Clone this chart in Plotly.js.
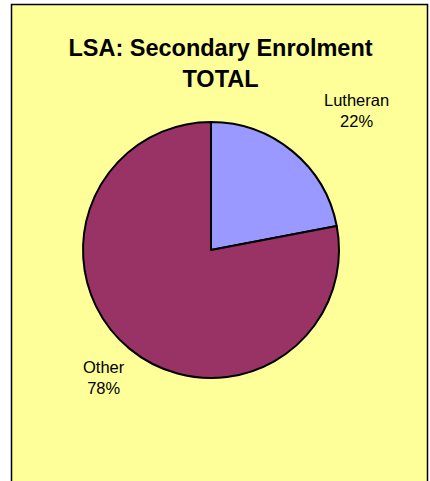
<!DOCTYPE html>
<html>
<head>
<meta charset="utf-8">
<script src="https://cdn.plot.ly/plotly-3.0.1.min.js"></script>
<style>html,body{margin:0;padding:0;background:#fff;}#chart{width:430px;height:481px;}</style>
</head>
<body>
<div id="chart"></div>
<script>
const categories = ["Lutheran", "Other"];
const values = [22, 78];
const colors = ["#9999FF", "#993366"];
const titleText = "LSA: Secondary Enrolment<br>TOTAL";

const total = values.reduce((a, b) => a + b, 0);
const labelPos = [
  {x: 356 / 430, y: 1 - 110 / 481},
  {x: 104 / 430, y: 1 - 377 / 481}
];
const annotations = categories.map((c, i) => ({
  xref: "paper", yref: "paper",
  x: labelPos[i].x, y: labelPos[i].y,
  xanchor: "center", yanchor: "middle",
  text: c + "<br>" + Math.round(values[i] / total * 100) + "%",
  showarrow: false,
  font: {family: "Liberation Sans, Arial, sans-serif", size: 16.5, color: "#000"}
}));

const data = [{
  type: "pie",
  labels: categories,
  values: values,
  sort: false,
  direction: "clockwise",
  rotation: 0,
  textinfo: "none",
  hoverinfo: "label+percent",
  marker: {colors: colors, line: {color: "#000", width: 2}},
  domain: {x: [83 / 430, 339 / 430], y: [1 - 378 / 481, 1 - 122 / 481]},
  showlegend: false
}];

const layout = {
  width: 430, height: 481,
  margin: {l: 0, r: 0, t: 0, b: 0},
  paper_bgcolor: "#ffffff",
  showlegend: false,
  title: {
    text: titleText,
    x: 220.5 / 430, xanchor: "center", xref: "paper",
    y: 1 - 56 / 481, yanchor: "middle", yref: "container",
    font: {family: "Liberation Sans, Arial, sans-serif", size: 23.5, color: "#000", weight: "bold"}
  },
  shapes: [{
    type: "rect", xref: "paper", yref: "paper", layer: "below",
    x0: 11.5 / 430, x1: 427.5 / 430, y0: -0.05, y1: 1 - 4.5 / 481,
    fillcolor: "#FFFF99", line: {color: "#000", width: 1.5}
  }],
  annotations: annotations
};

Plotly.newPlot("chart", data, layout, {displayModeBar: false, staticPlot: true});
</script>
</body>
</html>
